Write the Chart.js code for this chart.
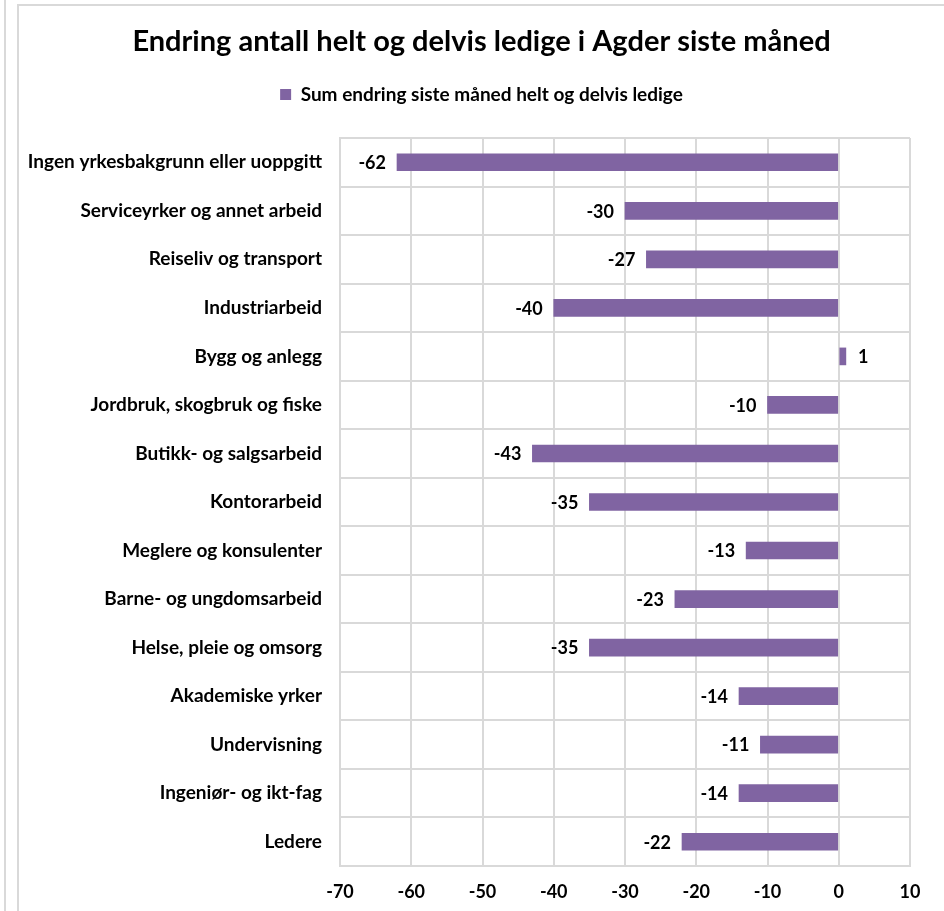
<!DOCTYPE html>
<html>
<head>
<meta charset="utf-8">
<title>Endring antall helt og delvis ledige i Agder siste måned</title>
<script src="https://cdn.jsdelivr.net/npm/chart.js@4.4.1/dist/chart.umd.min.js"></script>
<style>
  html, body { margin: 0; padding: 0; background: #fff; }
  body { width: 944px; height: 911px; position: relative; overflow: hidden; }
  .edge { position: absolute; left: 4px; top: 0; width: 2px; height: 911px; background: #d9d9d9; }
  .frame { position: absolute; left: 17px; top: 4px; width: 960px; height: 960px; border: 2px solid #d9d9d9; box-sizing: border-box; border-right: none; }
  #wrap { position: absolute; left: 19px; top: 6px; width: 925px; height: 905px; }
</style>
</head>
<body>
<div class="edge"></div>
<div class="frame"></div>
<div id="wrap"><canvas id="chart"></canvas></div>
<script>
  const FONT = "Lato, 'Noto Sans', sans-serif";

  const categories = [
    "Ingen yrkesbakgrunn eller uoppgitt",
    "Serviceyrker og annet arbeid",
    "Reiseliv og transport",
    "Industriarbeid",
    "Bygg og anlegg",
    "Jordbruk, skogbruk og fiske",
    "Butikk- og salgsarbeid",
    "Kontorarbeid",
    "Meglere og konsulenter",
    "Barne- og ungdomsarbeid",
    "Helse, pleie og omsorg",
    "Akademiske yrker",
    "Undervisning",
    "Ingeniør- og ikt-fag",
    "Ledere",
  ];
  const endring = [-62, -30, -27, -40, 1, -10, -43, -35, -13, -23, -35, -14, -11, -14, -22];
  const seriesLabel = "Sum endring siste måned helt og delvis ledige";
  const xMin = -70, xMax = 10, xStep = 10;

  // verdier ved enden av hver stolpe
  const barValueLabels = {
    id: "barValueLabels",
    afterDatasetsDraw(chart) {
      const ctx = chart.ctx;
      const meta = chart.getDatasetMeta(0);
      ctx.save();
      ctx.font = "bold 18px " + FONT;
      ctx.fillStyle = "#000";
      ctx.textBaseline = "middle";
      meta.data.forEach((bar, i) => {
        const v = chart.data.datasets[0].data[i];
        if (v < 0) {
          ctx.textAlign = "right";
          ctx.fillText(String(v), bar.x - 11, bar.y + 1);
        } else {
          ctx.textAlign = "left";
          ctx.fillText(String(v), bar.x + 12, bar.y + 1);
        }
      });
      ctx.restore();
    },
  };

  // tomme akser brukt som avstand rundt plottområdet
  const spacer = (position, size) => ({
    type: "linear",
    position,
    display: true,
    ticks: { display: false },
    grid: { display: false },
    border: { display: false },
    afterFit(scale) {
      if (scale.isHorizontal()) scale.height = size;
      else scale.width = size;
    },
  });

  new Chart(document.getElementById("chart"), {
    type: "bar",
    data: {
      labels: categories,
      datasets: [{
        label: seriesLabel,
        data: endring,
        xAxisID: "x",
        yAxisID: "y",
        backgroundColor: "#8064a2",
        borderWidth: 0,
        barThickness: 17,
      }],
    },
    options: {
      indexAxis: "y",
      responsive: true,
      maintainAspectRatio: false,
      animation: false,
      layout: { padding: 0 },
      plugins: {
        title: {
          display: true,
          text: "Endring antall helt og delvis ledige i Agder siste måned",
          color: "#000",
          font: { family: FONT, size: 29, weight: "bold", lineHeight: 1 },
          padding: { top: 21, bottom: 0 },
        },
        legend: {
          display: true,
          position: "top",
          labels: {
            color: "#000",
            font: { family: FONT, size: 19, weight: "bold" },
            boxWidth: 11,
            boxHeight: 11,
            padding: 29,
          },
        },
        tooltip: { enabled: false },
      },
      scales: {
        x: {
          type: "linear",
          min: xMin,
          max: xMax,
          ticks: {
            stepSize: xStep,
            color: "#000",
            padding: 15,
            font: { family: FONT, size: 18, weight: "bold" },
          },
          grid: { color: "#d9d9d9", lineWidth: 2, drawTicks: false },
          border: { color: "#d9d9d9", width: 2 },
          afterFit(scale) { scale.height = 45; },
        },
        y: {
          type: "category",
          ticks: {
            color: "#000",
            padding: 18,
            font: { family: FONT, size: 19, weight: "bold" },
          },
          grid: { color: "#d9d9d9", lineWidth: 2, drawTicks: false, offset: true },
          border: { color: "#d9d9d9", width: 2 },
          afterFit(scale) { scale.width = 321; },
        },
        xTop: spacer("top", 24),
        yRight: spacer("right", 34),
      },
    },
    plugins: [barValueLabels],
  });
</script>
</body>
</html>
